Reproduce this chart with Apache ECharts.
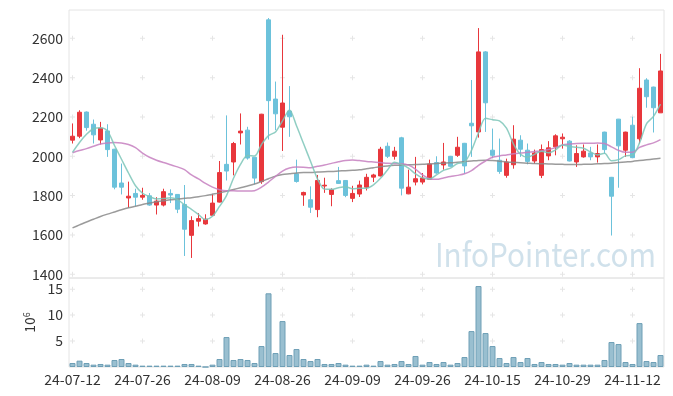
<!DOCTYPE html>
<html><head><meta charset="utf-8">
<script src="https://cdn.jsdelivr.net/npm/echarts@6/dist/echarts.min.js"></script>
<style>html,body{margin:0;padding:0;background:#fff}#c{width:673px;height:396px}</style>
</head><body><div id="c"></div>
<script>
const dates = [
'24-07-12','24-07-15','24-07-16','24-07-17','24-07-18','24-07-19','24-07-22','24-07-23','24-07-24','24-07-25',
'24-07-26','24-07-29','24-07-30','24-07-31','24-08-01','24-08-02','24-08-05','24-08-06','24-08-07','24-08-08',
'24-08-09','24-08-12','24-08-13','24-08-14','24-08-16','24-08-19','24-08-20','24-08-21','24-08-22','24-08-23',
'24-08-26','24-08-27','24-08-28','24-08-29','24-08-30','24-09-02','24-09-03','24-09-04','24-09-05','24-09-06',
'24-09-09','24-09-10','24-09-11','24-09-12','24-09-13','24-09-19','24-09-20','24-09-23','24-09-24','24-09-25',
'24-09-26','24-09-27','24-09-30','24-10-02','24-10-04','24-10-07','24-10-08','24-10-10','24-10-11','24-10-14',
'24-10-15','24-10-16','24-10-17','24-10-18','24-10-21','24-10-22','24-10-23','24-10-24','24-10-25','24-10-28',
'24-10-29','24-10-30','24-10-31','24-11-01','24-11-04','24-11-05','24-11-06','24-11-07','24-11-08','24-11-11',
'24-11-12','24-11-13','24-11-14','24-11-15','24-11-18'];

const opens = [2082,2102,2225,2163,2083,2129,2036,1864,1788,1811,
1792,1799,1752,1752,1811,1806,1755,1598,1670,1656,
1700,1767,1959,1971,2119,2133,1995,1871,2694,2291,
2148,2230,1911,1803,1779,1729,1849,1806,1876,1877,
1786,1808,1843,1894,1900,2051,2000,2094,1809,1869,
1869,1883,1968,1956,2000,2005,2066,2168,2124,2531,
2031,1980,1903,1957,2082,2031,1976,1903,2002,2048,
2089,2077,1971,1997,2017,1997,2123,1893,2189,2031,
2158,2089,2388,2352,2221];
const closes = [2102,2224,2146,2109,2143,2034,1843,1843,1797,1792,
1801,1752,1772,1820,1803,1731,1629,1673,1683,1680,
1762,1917,1925,2065,2128,1991,1889,2214,2283,2216,
2271,2201,1872,1816,1741,1877,1853,1830,1862,1801,
1811,1854,1893,1905,2036,2000,2026,1838,1843,1886,
1889,1961,1915,1971,1949,2046,1951,2155,2531,2272,
2005,1923,1971,2087,2036,1974,2017,2034,2043,2104,
2097,1976,2014,2026,1997,2014,2034,1797,2053,2123,
1993,2346,2303,2247,2434];
const lows = [2065,2092,2130,2065,2060,1997,1832,1806,1738,1746,
1779,1748,1704,1745,1762,1711,1493,1483,1643,1652,
1700,1765,1877,1903,2060,1983,1857,1860,2085,2133,
2027,2099,1866,1748,1712,1690,1814,1746,1860,1792,
1767,1793,1826,1869,1898,1991,1983,1801,1807,1852,
1857,1881,1911,1932,1946,1997,1911,1997,2095,2124,
1991,1911,1891,1937,1997,1959,1963,1889,1980,2005,
2039,1974,1946,1993,1980,1968,2014,1597,1840,1997,
1993,2065,2247,2121,2221];
const highs = [2167,2234,2228,2187,2175,2163,2038,1963,1871,1835,
1840,1813,1792,1835,1832,1806,1854,1695,1711,1705,
1806,1976,2208,2073,2218,2150,1995,2216,2703,2380,
2618,2357,1983,1820,1847,1905,1891,1837,1946,1877,
1850,1876,1911,1911,2048,2070,2048,2099,1932,1997,
1915,1983,2000,2068,2002,2099,2068,2388,2652,2535,
2141,2090,1988,2158,2107,2065,2034,2060,2077,2112,
2116,2082,2056,2060,2048,2060,2125,1895,2190,2125,
2201,2448,2397,2354,2521];

const ma5 = [2020,2070,2112,2140,2145,2128,2055,1985,1915,1850,
1812,1795,1783,1785,1789,1780,1753,1730,1704,1678,
1695,1745,1800,1888,1959,2004,2001,2060,2105,2124,
2180,2236,2155,2065,1975,1885,1833,1832,1840,1845,
1835,1837,1838,1855,1888,1930,1970,1958,1940,1910,
1890,1884,1905,1928,1940,1963,1970,2030,2120,2193,
2186,2180,2143,2062,2010,1995,2010,2025,2018,2033,
2058,2050,2046,2041,2022,2007,2015,1977,1983,2002,
2005,2068,2165,2203,2265];
const ma20 = [2018,2029,2039,2051,2063,2068,2070,2068,2060,2044,
2016,1995,1980,1968,1957,1946,1932,1905,1885,1862,
1843,1830,1825,1825,1823,1823,1825,1843,1869,1898,
1925,1940,1945,1944,1942,1949,1956,1964,1972,1979,
1981,1978,1974,1971,1968,1964,1963,1962,1955,1935,
1905,1886,1883,1890,1897,1903,1911,1927,1954,1976,
1995,2002,2007,2013,2017,2020,2024,2027,2034,2044,
2058,2062,2065,2066,2066,2067,2065,2048,2030,2020,
2020,2045,2058,2068,2085];
const ma60 = [1636,1651,1666,1680,1694,1706,1717,1728,1738,1746,
1755,1762,1769,1774,1779,1782,1786,1789,1794,1800,
1807,1814,1822,1831,1840,1849,1859,1872,1886,1899,
1907,1911,1915,1917,1918,1920,1922,1923,1925,1927,
1929,1931,1937,1942,1947,1951,1954,1956,1957,1958,
1959,1961,1963,1965,1967,1970,1973,1976,1979,1980,
1978,1975,1971,1969,1967,1965,1963,1962,1961,1960,
1959,1958,1958,1959,1960,1962,1963,1965,1968,1971,
1974,1978,1982,1986,1990];

const volumes = [0.77,1.22,0.77,0.45,0.58,0.45,1.35,1.54,0.77,0.45,
0.26,0.26,0.26,0.26,0.26,0.26,0.58,0.58,0.26,0,
0.45,1.54,5.77,1.35,1.54,1.35,0.77,4.04,14.2,2.69,
8.85,2.31,3.46,1.54,1.15,1.54,0.58,0.58,0.77,0.45,
0.26,0.26,0.45,0.26,1.15,0.45,0.58,1.15,0.58,2.12,
0.45,0.96,0.58,0.96,0.45,0.77,1.92,6.92,15.6,6.54,
4.04,1.73,0.77,1.92,0.96,1.73,0.58,0.96,0.58,0.58,
0.45,0.77,0.45,0.45,0.45,0.45,1.35,4.81,4.42,0.96,
0.58,8.46,1.15,0.96,2.31];

const priceTicks = [1400,1600,1800,2000,2200,2400,2600];
const volumeTicks = [5,10,15];

const FONT = '"Noto Sans CJK KR", "Noto Sans", sans-serif';
const RED = '#e8373c', BLUE = '#6cc2db';
const labelDates = dates.filter((d, i) => i % 10 === 0);
const priceCross = [];
labelDates.forEach(d => priceTicks.forEach(t => priceCross.push([d, t])));
const volCross = [];
labelDates.forEach(d => volumeTicks.forEach(t => volCross.push([d, t])));
const crossPath = 'path://M2,0H3V5H2ZM0,2H5V3H0Z';

const chart = echarts.init(document.getElementById('c'));
chart.setOption({
  animation: false,
  backgroundColor: '#fff',
  grid: [
    {left: 69, right: 9, top: 10, height: 268, show: true, borderColor: '#e4e4e4', borderWidth: 1},
    {left: 69, right: 9, top: 278, height: 89, show: true, borderColor: '#e4e4e4', borderWidth: 1}
  ],
  xAxis: [
    {type: 'category', gridIndex: 0, data: dates, boundaryGap: true,
     axisLine: {show: false}, axisTick: {show: false}, axisLabel: {show: false}, splitLine: {show: false}},
    {type: 'category', gridIndex: 1, data: dates, boundaryGap: true,
     axisLine: {show: false}, axisTick: {show: false}, splitLine: {show: false},
     axisLabel: {interval: 9, color: '#333', fontSize: 14, fontFamily: FONT, margin: 6}}
  ],
  yAxis: [
    {type: 'value', gridIndex: 0, min: 1381, max: 2744,
     axisLine: {show: false}, axisTick: {show: false}, splitLine: {show: false},
     axisLabel: {customValues: priceTicks, formatter: v => String(v), color: '#333', fontSize: 14, fontFamily: FONT, margin: 6}},
    {type: 'value', gridIndex: 1, min: 0, max: 17.15,
     name: '{b|10}{s|6}', nameLocation: 'middle', nameGap: 30, nameRotate: 90,
     nameTextStyle: {rich: {b: {fontSize: 14, color: '#333', fontFamily: FONT}, s: {fontSize: 9, color: '#333', fontFamily: FONT, verticalAlign: 'top', padding: [0, 0, 6, 0]}}},
     axisLine: {show: false}, axisTick: {show: false}, splitLine: {show: false},
     axisLabel: {customValues: volumeTicks, formatter: v => String(v), color: '#333', fontSize: 14, fontFamily: FONT, margin: 6}}
  ],
  graphic: [{
    type: 'text', x: 656, y: 254, scaleX: 0.9, z: 0, silent: true,
    style: {text: 'InfoPointer.com', align: 'right', verticalAlign: 'middle',
            font: '33px "Noto Sans CJK KR", sans-serif', fill: 'rgba(170,200,218,0.55)'}
  }],
  series: [
    {type: 'scatter', xAxisIndex: 0, yAxisIndex: 0, data: priceCross, symbol: crossPath, symbolSize: 5,
     itemStyle: {color: '#dedede'}, silent: true, z: 1},
    {type: 'scatter', xAxisIndex: 1, yAxisIndex: 1, data: volCross, symbol: crossPath, symbolSize: 5,
     itemStyle: {color: '#dedede'}, silent: true, z: 1},
    {type: 'candlestick', xAxisIndex: 0, yAxisIndex: 0, barWidth: 5, z: 2,
     data: opens.map((o, i) => [o, closes[i], lows[i], highs[i]]),
     itemStyle: {color: RED, color0: BLUE, borderColor: RED, borderColor0: BLUE, borderWidth: 1}},
    {type: 'line', xAxisIndex: 0, yAxisIndex: 0, data: ma60, smooth: 0.3, symbol: 'none', z: 3,
     lineStyle: {color: '#8a8a8a', width: 1.5, opacity: 0.85}},
    {type: 'line', xAxisIndex: 0, yAxisIndex: 0, data: ma20, smooth: 0.3, symbol: 'none', z: 3,
     lineStyle: {color: '#c67fc0', width: 1.5, opacity: 0.85}},
    {type: 'line', xAxisIndex: 0, yAxisIndex: 0, data: ma5, smooth: 0.3, symbol: 'none', z: 3,
     lineStyle: {color: '#7cc6b8', width: 1.5, opacity: 0.85}},
    {type: 'bar', xAxisIndex: 1, yAxisIndex: 1, data: volumes, barWidth: 6, z: 2,
     itemStyle: {color: '#99bfd0', borderColor: '#6e9fb6', borderWidth: 1}}
  ]
});
</script></body></html>
